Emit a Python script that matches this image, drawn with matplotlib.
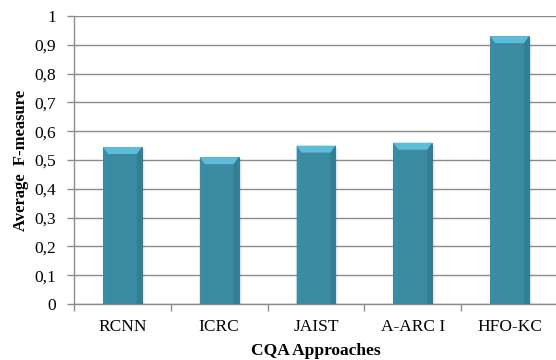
import matplotlib
matplotlib.use("Agg")
import matplotlib.pyplot as plt
from matplotlib.patches import Polygon
from matplotlib.ticker import FixedLocator, FuncFormatter

approaches = ["RCNN", "ICRC", "JAIST", "A-ARC I", "HFO-KC"]
f_measure = [0.545, 0.51, 0.55, 0.56, 0.93]
y_ticks = [0, 0.1, 0.2, 0.3, 0.4, 0.5, 0.6, 0.7, 0.8, 0.9, 1]

plt.rcParams["font.family"] = ["Liberation Serif", "DejaVu Serif"]

W, H = 556, 360
fig = plt.figure(figsize=(W / 100, H / 100), dpi=100)
left, right, top, bottom = 74, 558, 16, 304
ax = fig.add_axes([left / W, 1 - bottom / H, (right - left) / W, (bottom - top) / H])

n = len(approaches)
xs = list(range(n))
bar_w = 0.4
bar_color = "#3a8ba2"
bars = ax.bar(xs, f_measure, width=bar_w, color=bar_color, zorder=3,
              edgecolor="#2f7388", linewidth=0.6)

# bevelled top and soft right-side shadow on each bar
px_per_unit_y = (bottom - top) / 1.0
px_per_unit_x = (right - left) / n
bev_y = 7 / px_per_unit_y
bev_x = 5 / px_per_unit_x
for b in bars:
    x0 = b.get_x()
    x1 = x0 + b.get_width()
    h = b.get_height()
    left_face = Polygon([(x0, h), (x0 + bev_x, h - bev_y), (x0 + bev_x, 0), (x0, 0)],
                        closed=True, facecolor="#3b8da4", edgecolor="none", zorder=4)
    ax.add_patch(left_face)
    right_face = Polygon([(x1, h), (x1 - bev_x, h - bev_y), (x1 - bev_x, 0), (x1, 0)],
                         closed=True, facecolor="#327f95", edgecolor="none", zorder=4)
    ax.add_patch(right_face)
    top_face = Polygon([(x0, h), (x1, h), (x1 - bev_x, h - bev_y), (x0 + bev_x, h - bev_y)],
                       closed=True, facecolor="#5dbdd8", edgecolor="none", zorder=4)
    ax.add_patch(top_face)
    for k, a in enumerate([0.25, 0.15, 0.08]):
        off = (k + 1) * 1.0 / px_per_unit_x
        ax.fill_between([x1 + off - 1.0 / px_per_unit_x, x1 + off], 0, h - bev_y * 0.3,
                        color="#555555", alpha=a, linewidth=0, zorder=2.5)

ax.set_xlim(-0.5, n - 0.5)
ax.set_ylim(0, 1)
ax.yaxis.set_major_locator(FixedLocator(y_ticks))
ax.yaxis.set_major_formatter(FuncFormatter(lambda v, p: f"{v:g}".replace(".", ",")))
ax.set_xticks(xs)
ax.set_xticklabels(approaches, fontsize=12.5)
ax.set_xticks([i - 0.5 for i in range(n)], minor=True)
ax.tick_params(axis="x", which="major", length=0, pad=11)
ax.tick_params(axis="x", which="minor", length=5, width=1, color="#8c8c8c", direction="out")
ax.tick_params(axis="y", length=5, width=1, color="#8c8c8c", labelsize=12.5, pad=8)

ax.yaxis.grid(True, color="#8c8c8c", linewidth=1, zorder=0)
ax.set_axisbelow(True)
for s in ["top", "right"]:
    ax.spines[s].set_visible(False)
for s in ["left", "bottom"]:
    ax.spines[s].set_color("#8c8c8c")
    ax.spines[s].set_linewidth(1)

ax.set_ylabel("Average  F-measure", fontsize=12, fontweight="bold")
ax.set_xlabel("CQA Approaches", fontsize=12.5, fontweight="bold")
ax.xaxis.set_label_coords(0.5, -(351 - bottom) / (bottom - top))
ax.xaxis.label.set_va("center")
ax.yaxis.set_label_coords(-(left - 21) / (right - left), (bottom - 160) / (bottom - top))
ax.yaxis.label.set_va("center")

fig.savefig("out.png", dpi=100)
